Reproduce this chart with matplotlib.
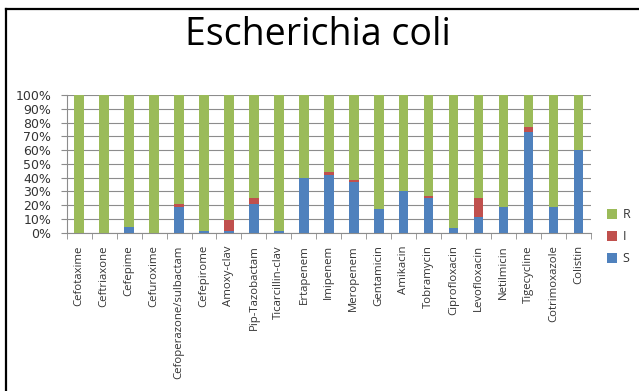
import matplotlib
matplotlib.use("Agg")
import matplotlib.pyplot as plt
from matplotlib.lines import Line2D
import numpy as np

plt.rcParams['font.family'] = ['Open Sans', 'DejaVu Sans']

antibiotics = [
    "Cefotaxime", "Ceftriaxone", "Cefepime", "Cefuroxime",
    "Cefoperazone/sulbactam", "Cefepirome", "Amoxy-clav", "Pip-Tazobactam",
    "Ticarcillin-clav", "Ertapenem", "Imipenem", "Meropenem", "Gentamicin",
    "Amikacin", "Tobramycin", "Ciprofloxacin", "Levofloxacin", "Netilmicin",
    "Tigecycline", "Cotrimoxazole", "Colistin",
]
# percentages: susceptible, intermediate; resistant is the remainder
S = [0, 0, 4, 0, 19, 1.5, 1.5, 21, 1.5, 40, 42, 36.5, 17, 30.5, 25, 3.5, 11.5, 19, 73, 19, 60]
I = [0, 0, 0, 0, 2, 0, 7.5, 4, 0, 0, 2, 2, 0, 0, 1.5, 0, 13.5, 0, 4, 0, 0]
R = [100 - s - i for s, i in zip(S, I)]

c_S, c_I, c_R = "#4F81BD", "#C0504D", "#9BBB59"
grid_c = "#8c8c8c"
text_c = "#333333"

fig = plt.figure(figsize=(6.39, 3.91), dpi=100)

# outer frame (left and top edges)
fig.add_artist(Line2D([5.5 / 639, 5.5 / 639], [0, 1 - 8.5 / 391], color="black", lw=1.6,
                      transform=fig.transFigure))
fig.add_artist(Line2D([5.5 / 639, 1], [1 - 8.5 / 391, 1 - 8.5 / 391], color="black", lw=1.6,
                      transform=fig.transFigure))

fig.text(318 / 639, 1 - 45 / 391, "Escherichia coli", ha="center", va="baseline",
         fontsize=27, color="black")

ax = fig.add_axes([66.7 / 639, 1 - 232.7 / 391, (591 - 66.7) / 639, (232.7 - 95) / 391])
x = np.arange(len(antibiotics))
w = 0.38
bS = ax.bar(x, S, w, color=c_S, label="S", zorder=3)
bI = ax.bar(x, I, w, bottom=S, color=c_I, label="I", zorder=3)
bR = ax.bar(x, R, w, bottom=np.add(S, I), color=c_R, label="R", zorder=3)

ax.set_xlim(-0.5, len(antibiotics) - 0.5)
ax.set_ylim(0, 100)
ax.set_yticks(np.arange(0, 101, 10))
ax.set_yticklabels([f"{v}%" for v in range(0, 101, 10)], fontsize=9, color=text_c,
                   family="DejaVu Sans")
ax.yaxis.grid(True, color=grid_c, lw=0.8, zorder=0)
ax.tick_params(axis="y", length=4, color=grid_c, pad=7)

ax.set_xticks(x)
ax.set_xticklabels(antibiotics, rotation=90, fontsize=8.2, color=text_c)
ax.set_xticks(np.arange(-0.5, len(antibiotics)), minor=True)
ax.tick_params(axis="x", which="major", length=0, pad=9)
ax.tick_params(axis="x", which="minor", length=4, color=grid_c)

for side in ("top", "right"):
    ax.spines[side].set_visible(False)
for side in ("left", "bottom"):
    ax.spines[side].set_color(grid_c)
    ax.spines[side].set_linewidth(0.8)

leg = ax.legend(handles=[bR, bI, bS], labels=["R", "I", "S"], loc="center left",
                bbox_to_anchor=(1.01, -0.03), frameon=False, fontsize=9,
                handlelength=0.8, handleheight=0.8, labelspacing=0.72, handletextpad=0.4)
for t in leg.get_texts():
    t.set_color(text_c)

fig.savefig("out.png", dpi=100)
